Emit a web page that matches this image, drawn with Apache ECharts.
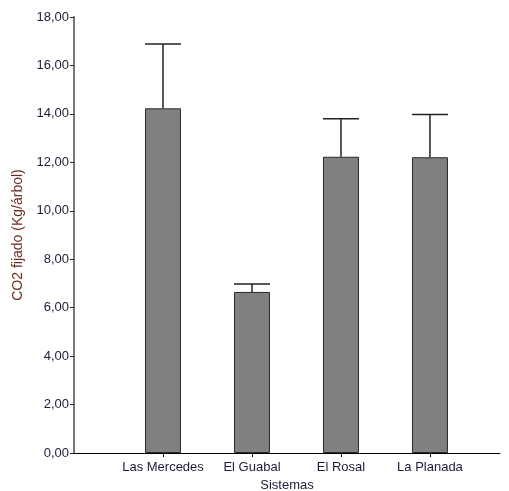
<!DOCTYPE html>
<html>
<head>
<meta charset="utf-8">
<script src="https://cdn.jsdelivr.net/npm/echarts@6/dist/echarts.min.js"></script>
<style>
  html, body { margin: 0; padding: 0; background: #fff; }
  #chart { width: 509px; height: 491px; }
</style>
</head>
<body>
<div id="chart"></div>
<script>
// Sistemas and mean CO2 fixed per tree, with the upper error limit
const categories = ['Las Mercedes', 'El Guabal', 'El Rosal', 'La Planada'];
const means = [14.23, 6.65, 12.23, 12.21];
const upper = [16.89, 6.98, 13.80, 13.97];
const yTicks = [0, 2, 4, 6, 8, 10, 12, 14, 16, 18];

// category i sits at x = i + 1 on a numeric axis so the y axis can sit left of the first band
const positions = categories.map((c, i) => i + 1);
const barData = means.map((v, i) => [positions[i], v]);
const errData = means.map((v, i) => [positions[i], v, upper[i]]);

const BAR_W = 36;
const font = 'Liberation Sans, Arial, sans-serif';

const chart = echarts.init(document.getElementById('chart'), null, { renderer: 'canvas' });
chart.setOption({
  animation: false,
  backgroundColor: '#ffffff',
  grid: { left: 74, right: 9, top: 17, bottom: 38, containLabel: false, outerBoundsMode: 'none' },
  xAxis: {
    type: 'value',
    min: 0,
    max: 4.787,
    name: 'Sistemas',
    nameLocation: 'middle',
    nameGap: 26,
    nameTextStyle: { color: '#1c1c3a', fontFamily: font, fontSize: 13 },
    splitLine: { show: false },
    axisLine: { show: true, lineStyle: { color: '#000', width: 1 } },
    axisTick: { show: true, length: 4, lineStyle: { color: '#000' }, customValues: positions },
    axisLabel: {
      color: '#1c1c3a', fontFamily: font, fontSize: 13, margin: 8,
      customValues: positions,
      formatter: v => categories[Math.round(v) - 1] || ''
    }
  },
  yAxis: {
    type: 'value',
    min: yTicks[0],
    max: yTicks[yTicks.length - 1],
    interval: 2,
    name: 'CO2 fijado (Kg/árbol)',
    nameLocation: 'middle',
    nameGap: 46,
    nameRotate: 90,
    nameTextStyle: { color: '#6b2b20', fontFamily: font, fontSize: 14 },
    splitLine: { show: false },
    axisLine: { show: true, lineStyle: { color: '#777', width: 2 } },
    axisTick: { show: true, length: 4, lineStyle: { color: '#222' } },
    axisLabel: {
      color: '#1c1c3a', fontFamily: font, fontSize: 13, margin: 5,
      formatter: v => v.toFixed(2).replace('.', ',')
    }
  },
  series: [
    {
      type: 'bar',
      data: barData,
      barWidth: BAR_W,
      itemStyle: { color: '#808080', borderColor: '#2a2a2a', borderWidth: 1 },
      z: 2
    },
    {
      type: 'custom',
      data: errData,
      z: 3,
      renderItem: (params, api) => {
        const x = api.value(0);
        const base = api.coord([x, api.value(1)]);
        const top = api.coord([x, api.value(2)]);
        const half = BAR_W / 2;
        const style = { stroke: '#222', lineWidth: 1.5 };
        return {
          type: 'group',
          children: [
            { type: 'line', shape: { x1: base[0], y1: base[1], x2: top[0], y2: top[1] }, style },
            { type: 'line', shape: { x1: top[0] - half, y1: top[1], x2: top[0] + half, y2: top[1] }, style }
          ]
        };
      }
    }
  ]
});
</script>
</body>
</html>
